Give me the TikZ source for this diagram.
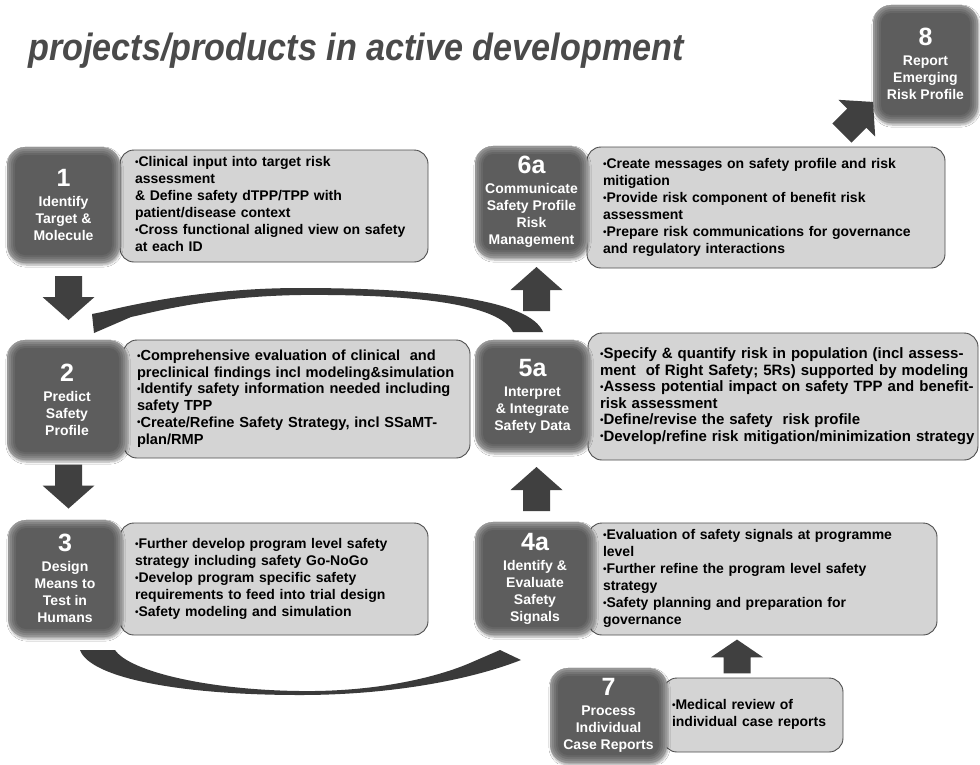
\documentclass[tikz,border=0pt]{standalone}
\usepackage{fontspec}
\setmainfont{Liberation Sans}
\newfontfamily\titlefont[FakeStretch=0.9]{Liberation Sans}
\usetikzlibrary{calc,shadows.blur}
\definecolor{dkedge}{HTML}{969696}
\definecolor{dkl1}{HTML}{848484}
\definecolor{dkl2}{HTML}{747474}
\definecolor{dkl3}{HTML}{676767}
\definecolor{dkin}{HTML}{5D5D5D}
\definecolor{ltfill}{HTML}{D4D4D4}
\definecolor{ltline}{HTML}{4E4E4E}
\definecolor{arr}{HTML}{404040}
\definecolor{curv}{HTML}{3A3A3A}
\definecolor{titlec}{HTML}{4A4A4A}
\tikzset{
  dkbox/.style={rounded corners=18pt, fill=dkedge, text=white, align=center, inner sep=0pt,
    font=\bfseries\fontsize{14}{17}\selectfont,
    blur shadow={shadow xshift=1pt, shadow yshift=-2pt, shadow opacity=35, shadow blur steps=6},
    path picture={
      \fill[dkl1, rounded corners=16pt] ([shift={(2pt,-2pt)}]path picture bounding box.north west) rectangle ([shift={(-2pt,2pt)}]path picture bounding box.south east);
      \fill[dkl2, rounded corners=14pt] ([shift={(4pt,-4pt)}]path picture bounding box.north west) rectangle ([shift={(-4pt,4pt)}]path picture bounding box.south east);
      \fill[dkl3, rounded corners=12pt] ([shift={(6pt,-6pt)}]path picture bounding box.north west) rectangle ([shift={(-6pt,6pt)}]path picture bounding box.south east);
      \fill[dkin, rounded corners=10pt] ([shift={(8pt,-8pt)}]path picture bounding box.north west) rectangle ([shift={(-8pt,8pt)}]path picture bounding box.south east);
    }},
  ltbox/.style={rounded corners=14pt, fill=ltfill, draw=ltline, line width=0.9pt, align=left,
    inner ysep=0pt, font=\bfseries\fontsize{14}{17}\selectfont},
  blockarr/.pic={\fill[arr] (0,-22) -- (26,1) -- (13.5,1) -- (13.5,22) -- (-13.5,22) -- (-13.5,1) -- (-26,1) -- cycle;}
}
\newcommand{\bignum}[1]{{\fontsize{25}{25}\selectfont #1}\\[3pt]}
\newcommand{\bul}{\raisebox{1.4pt}{\fontsize{10}{10}\selectfont •}}
\begin{document}
\begin{tikzpicture}[x=1pt,y=-1pt]
\useasboundingbox (0,0) rectangle (980,764);
\fill[white] (0,0) rectangle (980,764);

% title
\node[anchor=base west, text=titlec, inner sep=0pt,
  font=\titlefont\bfseries\itshape\fontsize{38}{38}\selectfont] (title) at (28,60)
  {projects/products in active development};

% light boxes
\node[ltbox, minimum width=308pt, minimum height=112pt, text width=278pt, inner xsep=15pt] (b1) at (274,206)
 {\begin{tabular}{@{}l@{}}
 \bul Clinical input into target risk\\
 assessment\\
 \& Define safety dTPP/TPP with\\
 patient/disease context\\
 \bul Cross functional aligned view on safety\\
 at each ID
 \end{tabular}};
\node[ltbox, minimum width=347pt, minimum height=118pt, text width=319pt, inner xsep=14pt,
  font=\bfseries\fontsize{14.6}{16.7}\selectfont] (b2) at (296.5,399)
 {\begin{tabular}{@{}l@{}}
 \bul Comprehensive evaluation of clinical\ \ and\\
 preclinical findings incl modeling\&simulation\\
 \bul Identify safety information needed including\\
 safety TPP\\
 \bul Create/Refine Safety Strategy, incl SSaMT-\\
 plan/RMP
 \end{tabular}};
\node[ltbox, minimum width=308pt, minimum height=112pt, text width=278pt, inner xsep=15pt] (b3) at (274,579)
 {\begin{tabular}{@{}l@{}}
 \bul Further develop program level safety\\
 strategy including safety Go-NoGo\\
 \bul Develop program specific safety\\
 requirements to feed into trial design\\
 \bul Safety modeling and simulation
 \end{tabular}};
\node[ltbox, minimum width=358pt, minimum height=121pt, text width=326pt, inner xsep=16pt] (b6) at (766,207.5)
 {\begin{tabular}{@{}l@{}}
 \bul Create messages on safety profile and risk\\
 mitigation\\
 \bul Provide risk component of benefit risk\\
 assessment\\
 \bul Prepare risk communications for governance\\
 and regulatory interactions
 \end{tabular}};
\node[ltbox, minimum width=390pt, minimum height=127pt, text width=366pt, inner xsep=12pt,
  font=\bfseries\fontsize{15}{16.5}\selectfont] (b5) at (783,396.5)
 {\begin{tabular}{@{}l@{}}
 \bul Specify \& quantify risk in population (incl assess-\\
 ment\ \ of Right Safety; 5Rs) supported by modeling\\
 \bul Assess potential impact on safety TPP and benefit-\\
 risk assessment\\
 \bul Define/revise the safety\ \ risk profile\\
 \bul Develop/refine risk mitigation/minimization strategy
 \end{tabular}};
\node[ltbox, minimum width=349pt, minimum height=112pt, text width=319pt, inner xsep=15pt] (b4) at (762.5,579)
 {\begin{tabular}{@{}l@{}}
 \bul Evaluation of safety signals at programme\\
 level\\
 \bul Further refine the program level safety\\
 strategy\\
 \bul Safety planning and preparation for\\
 governance
 \end{tabular}};
\node[ltbox, minimum width=180pt, minimum height=74pt, text width=162pt, inner xsep=9pt] (b7) at (753,715)
 {\begin{tabular}{@{}l@{}}
 \bul Medical review of\\
 individual case reports
 \end{tabular}};

% dark boxes
\node[dkbox, minimum width=113pt, minimum height=116pt] (d1) at (63.5,205)
 {\bignum{1}Identify\\Target \&\\Molecule};
\node[dkbox, minimum width=120pt, minimum height=120pt] (d2) at (67,400)
 {\bignum{2}Predict\\Safety\\Profile};
\node[dkbox, minimum width=114pt, minimum height=117pt] (d3) at (65,578.5)
 {\bignum{3}Design\\Means to\\Test in\\Humans};
\node[dkbox, minimum width=113pt, minimum height=112pt] (d6) at (531.5,202)
 {\bignum{6a}Communicate\\Safety Profile\\Risk\\Management};
\node[dkbox, minimum width=115pt, minimum height=112pt] (d5) at (532.5,396)
 {\bignum{5a}Interpret\\\& Integrate\\Safety Data};
\node[dkbox, minimum width=120pt, minimum height=113pt] (d4) at (535,578.5)
 {\bignum{4a}Identify \&\\Evaluate\\Safety\\Signals};
\node[dkbox, minimum width=117pt, minimum height=95pt] (d7) at (608.5,715.5)
 {\bignum{7}Process\\Individual\\Case Reports};
\node[dkbox, minimum width=105pt, minimum height=118pt] (d8) at (925.5,64)
 {\bignum{8}Report\\Emerging\\Risk Profile};

% block arrows
\coordinate (a12) at (68.5,298);
\coordinate (a23) at (68.5,486.5);
\coordinate (a45) at (536.5,489);
\coordinate (a56) at (536.5,289);
\coordinate (a74) at (737,656.5);
\coordinate (a68) at (857.5,117.5);
\pic[rotate=180] at (a12) {blockarr};
\pic[rotate=180] at (a23) {blockarr};
\pic at (a45) {blockarr};
\pic at (a56) {blockarr};
\pic[yscale=0.77] at (a74) {blockarr};
\pic[rotate=-45] at (a68) {blockarr};

% curved arrow 5a -> 2
\fill[curv] (543,332) .. controls (530,300) and (430,288) .. (300,288)
  .. controls (220,288) and (150,300) .. (102,312) -- (92,314) -- (94,333) -- (131,317) -- (140,315)
  .. controls (190,303) and (240,296) .. (300,295)
  .. controls (420,294) and (500,305) .. (513,332) -- cycle;

% curved arrow 3 -> 4a
\fill[curv] (80,650) -- (115,650) .. controls (130,672) and (210,690) .. (300,691)
  .. controls (380,692) and (440,676) .. (470,663) -- (500,650) -- (521,660)
  .. controls (470,680) and (390,695) .. (300,695)
  .. controls (180,695) and (90,678) .. (80,650) -- cycle;
\end{tikzpicture}
\end{document}
